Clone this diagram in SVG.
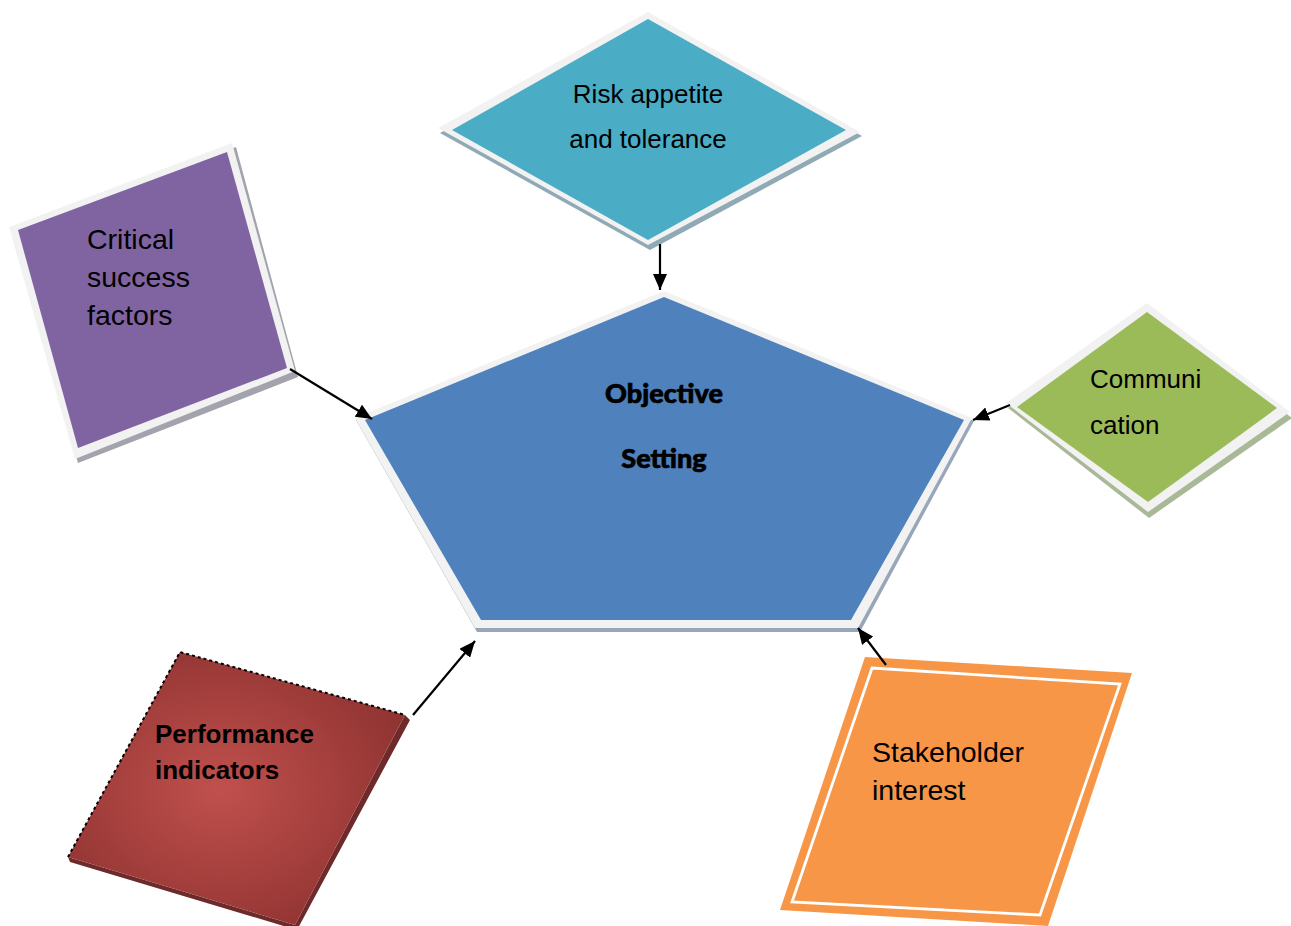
<svg xmlns="http://www.w3.org/2000/svg" width="1291" height="926" viewBox="0 0 1291 926">
  <style>
    .label { font-family: "Liberation Sans", Arial, sans-serif; fill: #000; }
    .frame { fill: #f2f2f2; }
    .conn { stroke: #000; stroke-width: 2.2; fill: none; marker-end: url(#arrow); }
    .title { font-family: Lato, "Open Sans", "DejaVu Sans", sans-serif; font-weight: 900; font-size: 27px; text-anchor: middle; fill: #000; stroke: #000; stroke-width: 0.7; }
  </style>
  <defs>
    <marker id="arrow" markerUnits="userSpaceOnUse" markerWidth="16" markerHeight="14" viewBox="0 0 16 14" refX="16" refY="7" orient="auto">
      <path d="M0,0 L16,7 L0,14 z" fill="#000"/>
    </marker>
    <radialGradient id="redGlow" cx="0.45" cy="0.5" r="0.6">
      <stop offset="0" stop-color="#c0504d"/>
      <stop offset="1" stop-color="#8f3331"/>
    </radialGradient>
  </defs>

  <rect width="1291" height="926" fill="#fff"/>

  <!-- central pentagon -->
  <g id="objective-setting">
    <polygon points="665,294 974,421 860,632 477,632 356,420" fill="#97a6b9"/>
    <polygon class="frame" points="664,291 972,418 858,628 475,628 355,418"/>
    <polygon points="664,297 964,420 851,620 481,620 365,420" fill="#4f81bd"/>
    <text class="title" x="664" y="403">Objective</text>
    <text class="title" x="664" y="468">Setting</text>
  </g>

  <!-- top diamond -->
  <g id="risk-appetite">
    <polygon points="440,133 650,250 862,136 650,17" fill="#8fa9b5"/>
    <polygon class="frame" points="438,128 648,12 860,132 648,245"/>
    <polygon points="452,130 648,19 846,130 648,240" fill="#4bacc6"/>
    <text class="label" font-size="26" text-anchor="middle" x="648" y="103">Risk appetite</text>
    <text class="label" font-size="26" text-anchor="middle" x="648" y="148">and tolerance</text>
  </g>

  <!-- upper left square -->
  <g id="critical-success">
    <polygon points="12,231 236,147 298,377 78,463" fill="#a3a3ad"/>
    <polygon class="frame" points="9,227 232,143 295,371 75,459"/>
    <polygon points="18,230 227,152 287,368 78,448" fill="#8064a2"/>
    <text class="label" font-size="28.5" x="87" y="249">Critical</text>
    <text class="label" font-size="28.5" x="87" y="287">success</text>
    <text class="label" font-size="28.5" x="87" y="325">factors</text>
  </g>

  <!-- right diamond -->
  <g id="communication">
    <polygon points="1008,408 1149,518 1292,418 1150,308" fill="#a9b896"/>
    <polygon class="frame" points="1006,403 1147,303 1290,412 1148,512"/>
    <polygon points="1017,407 1147,312 1277,408 1148,502" fill="#9bbb59"/>
    <text class="label" font-size="26" x="1090" y="388">Communi</text>
    <text class="label" font-size="26" x="1090" y="434">cation</text>
  </g>

  <!-- lower left parallelogram -->
  <g id="performance-indicators">
    <polygon points="70,862 297,930 410,720 405,715 295,925 68,857" fill="#6e2a2a"/>
    <polygon points="180,652 405,715 295,925 68,857" fill="url(#redGlow)"/>
    <polyline points="68,857 180,652 405,715" fill="none" stroke="#000" stroke-width="2" stroke-dasharray="3,3"/>
    <text class="label" font-size="26" font-weight="bold" x="155" y="743">Performance</text>
    <text class="label" font-size="26" font-weight="bold" x="155" y="779">indicators</text>
  </g>

  <!-- lower right parallelogram -->
  <g id="stakeholder-interest">
    <polygon points="865,657 1132,673 1048,926 780,910" fill="#f79646"/>
    <polygon points="872,668 1120,684 1040,915 792,902" fill="none" stroke="#fff" stroke-width="2.8"/>
    <text class="label" font-size="28.5" x="872" y="762">Stakeholder</text>
    <text class="label" font-size="28.5" x="872" y="800">interest</text>
  </g>

  <!-- connectors -->
  <g id="connectors">
    <line class="conn" x1="660" y1="244" x2="660" y2="290"/>
    <line class="conn" x1="290" y1="369" x2="372" y2="419"/>
    <line class="conn" x1="1010" y1="405" x2="973" y2="420"/>
    <line class="conn" x1="413" y1="715" x2="475" y2="641"/>
    <line class="conn" x1="886" y1="665" x2="858" y2="628"/>
  </g>
</svg>
